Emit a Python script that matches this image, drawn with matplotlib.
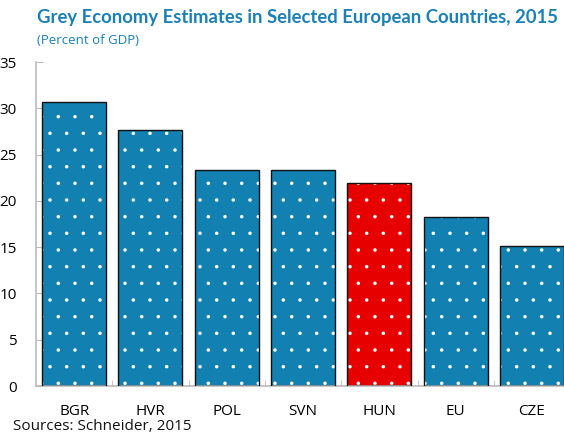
import matplotlib
matplotlib.use("Agg")
import matplotlib.pyplot as plt
import numpy as np

categories = ["BGR", "HVR", "POL", "SVN", "HUN", "EU", "CZE"]
values = [30.7, 27.7, 23.3, 23.3, 21.9, 18.3, 15.1]
colors = ["#1380B2", "#1380B2", "#1380B2", "#1380B2", "#E60000", "#1380B2", "#1380B2"]
yticks = [0, 5, 10, 15, 20, 25, 30, 35]

plt.rcParams['font.family'] = ['Open Sans', 'DejaVu Sans']
plt.rcParams['hatch.linewidth'] = 0.1
fig = plt.figure(figsize=(5.64, 4.33), dpi=100)
ax = fig.add_axes([36/564, 1-386/433, (564-36)/564, (386-62)/433])

x = np.arange(len(categories))
w = 0.84
ax.bar(x, values, width=w, color=colors, edgecolor="white", linewidth=0, hatch=".", zorder=2)
ax.bar(x, values, width=w, fill=False, edgecolor="#111111", linewidth=1.0, zorder=3)

ax.set_xlim(-0.5, 6.42)
ax.set_ylim(0, 35)
ax.set_yticks(yticks)
ax.set_yticklabels([str(t) for t in yticks], fontsize=11)
ax.set_xticks(x)
ax.set_xticklabels(categories, fontsize=11)
ax.tick_params(axis='x', length=0, pad=13)
ax.set_xticks(x[:-1] + 0.5, minor=True)
ax.tick_params(axis='x', which='minor', direction='in', length=4, color='#BBBBBB')
ax.tick_params(axis='y', direction='in', length=5, color='#BBBBBB', pad=14)
for s in ['top', 'right']:
    ax.spines[s].set_visible(False)
for s in ['left', 'bottom']:
    ax.spines[s].set_color('#BBBBBB')
    ax.spines[s].set_linewidth(1.2)

fig.text(37/564, 1-18/433, "Grey Economy Estimates in Selected European Countries, 2015",
         fontsize=13.35, fontweight='bold', color="#1A80B6", family=['Lato', 'DejaVu Sans'], va='center')
fig.text(37/564, 1-40/433, "(Percent of GDP)", fontsize=9.5, color="#1A80B6", va='center')
fig.text(13/564, 1-426/433, "Sources: Schneider, 2015", fontsize=11, color="#111111", va='center')

fig.savefig("out.png", dpi=100)
